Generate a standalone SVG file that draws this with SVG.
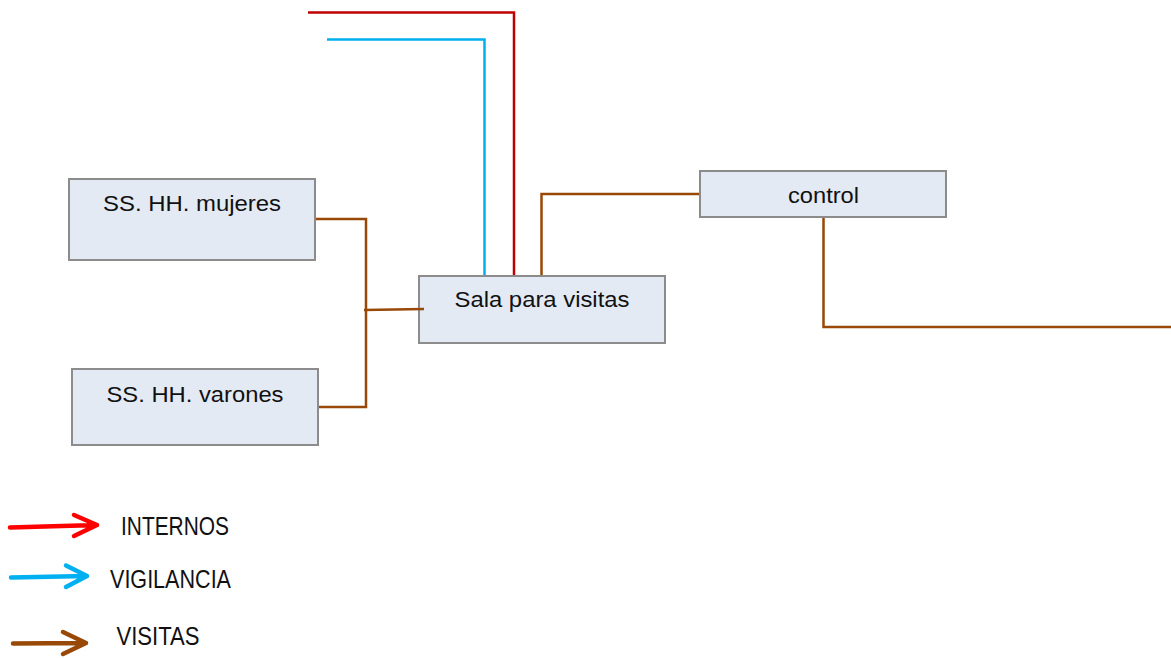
<svg xmlns="http://www.w3.org/2000/svg" width="1171" height="658" viewBox="0 0 1171 658">
<style>
.box{fill:#E4EAF4;stroke:#8C8C8C;stroke-width:2}
.lbl{font-family:"Liberation Sans",Arial,sans-serif;font-size:22px;fill:#111;text-anchor:middle}
.leg{font-family:"Liberation Sans",Arial,sans-serif;font-size:25px;fill:#111}
.c{fill:none;stroke-width:2.5;stroke-linejoin:miter}
.red{stroke:#C00000}
.blue{stroke:#00B0F0}
.brown{stroke:#984807}
.arr{fill:none;stroke-width:4.5;stroke-linecap:round;stroke-linejoin:round}
</style>
<rect width="1171" height="658" fill="#fff"/>
<g id="node-mujeres">
<rect class="box" x="69" y="179" width="246" height="81"/>
<text class="lbl" x="192" y="211" textLength="178" lengthAdjust="spacingAndGlyphs">SS. HH. mujeres</text>
</g>
<g id="node-varones">
<rect class="box" x="72" y="369" width="246" height="76"/>
<text class="lbl" x="195" y="402" textLength="177" lengthAdjust="spacingAndGlyphs">SS. HH. varones</text>
</g>
<g id="node-sala">
<rect class="box" x="419" y="276" width="246" height="67"/>
<text class="lbl" x="542" y="307" textLength="175" lengthAdjust="spacingAndGlyphs">Sala para visitas</text>
</g>
<g id="node-control">
<rect class="box" x="700" y="171" width="246" height="46"/>
<text class="lbl" x="823.5" y="203" textLength="71" lengthAdjust="spacingAndGlyphs">control</text>
</g>
<g id="connectors">
<polyline class="c red" points="308,12.5 514,12.5 514,275"/>
<polyline class="c blue" points="327,39.5 484.5,39.5 484.5,275"/>
<polyline class="c brown" points="541.5,275 541.5,194 699,194"/>
<polyline class="c brown" points="316,219 366,219 366,407 319,407"/>
<polyline class="c brown" points="364,310 424,309"/>
<polyline class="c brown" points="823.5,218 823.5,327 1171,327"/>
</g>
<g id="legend">
<path class="arr" stroke="#FF0000" d="M10,527.5 L97,525 M74,515 L97,525 L74,536"/>
<path class="arr" stroke="#00B0F0" d="M11,577.5 L87,576 M66,565.5 L87,576 L66,587"/>
<path class="arr" stroke="#984807" d="M13,643.5 L86,643 M63,632 L86,643 L63,654"/>
<text class="leg" x="121" y="534.5" textLength="108" lengthAdjust="spacingAndGlyphs">INTERNOS</text>
<text class="leg" x="110" y="588" textLength="121" lengthAdjust="spacingAndGlyphs">VIGILANCIA</text>
<text class="leg" x="116.5" y="645" textLength="83" lengthAdjust="spacingAndGlyphs">VISITAS</text>
</g>
</svg>
